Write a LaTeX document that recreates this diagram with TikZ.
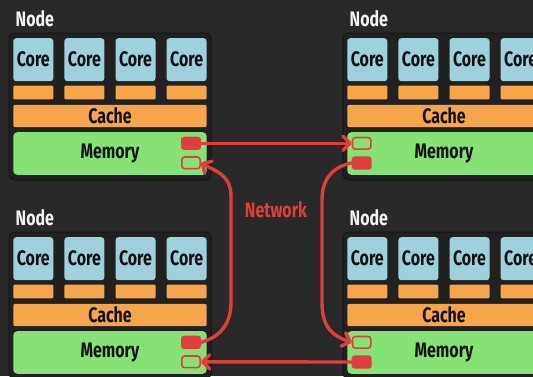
\documentclass[tikz,border=0pt]{standalone}
\usepackage{fontspec}
\setmainfont{Fira Sans}[FakeStretch=0.76]
\usetikzlibrary{arrows.meta}

\definecolor{bg}{HTML}{292929}
\definecolor{boxfill}{HTML}{212121}
\definecolor{boxline}{HTML}{151515}
\definecolor{corecol}{HTML}{9ED1DB}
\definecolor{cachecol}{HTML}{F6A54B}
\definecolor{memcol}{HTML}{86E274}
\definecolor{netred}{HTML}{E03E3E}
\definecolor{ink}{HTML}{111111}
\definecolor{titlecol}{HTML}{F2F2F2}

\tikzset{
  lbl/.style={font=\bfseries\fontsize{21}{21}\selectfont},
  machinebox/.style={fill=boxfill, draw=boxline, line width=1pt, rounded corners=6pt,
    minimum width=202pt, minimum height=147pt, inner sep=0pt},
  title/.style={lbl, text=titlecol, anchor=base west, inner sep=0pt},
  core/.style={lbl, text=ink, fill=corecol, rounded corners=3pt,
    minimum width=40pt, minimum height=43pt, inner sep=0pt},
  bar/.style={fill=cachecol, rounded corners=1pt,
    minimum width=40pt, minimum height=13.6pt, inner sep=0pt},
  cache/.style={lbl, text=ink, fill=cachecol, rounded corners=2pt,
    minimum width=193.4pt, minimum height=22.4pt, inner sep=0pt},
  mem/.style={lbl, text=ink, fill=memcol, rounded corners=4pt,
    minimum width=193.4pt, minimum height=42.6pt, inner sep=0pt},
  portfull/.style={fill=netred, rounded corners=3pt,
    minimum width=20pt, minimum height=13.3pt, inner sep=0pt},
  portopen/.style={fill=memcol, draw=netred, line width=1.6pt, rounded corners=3pt,
    minimum width=18.4pt, minimum height=11.7pt, inner sep=0pt},
  link/.style={draw=netred, line width=3.4pt, line cap=round,
    -{Straight Barb[length=7pt, width=14pt, round]}},
  nettext/.style={lbl, text=netred, inner sep=0pt},
}

% one compute node: cores, private caches, shared cache, memory
\newcommand\machine[3]{%
  \begin{scope}[shift={(#2,#3)}]
    \node[machinebox] (#1) at (110,106.5) {};
    \node[title] (#1-title) at (15.5,26.5) {Node};
    \foreach \i in {0,...,3} {
      \node[core] (#1-core\i) at (33.3+51.1*\i,59.7) {Core};
      \node[bar] (#1-bar\i) at (33.3+51.1*\i,92.5) {};
    }
    \node[cache] (#1-cache) at (110,116) {Cache};
    \node[mem] (#1-mem) at (110,153.5) {Memory};
  \end{scope}}

\begin{document}
\begin{tikzpicture}[x=1pt, y=-1pt]
  \clip (0,0) rectangle (533,376);
  \fill[bg] (0,0) rectangle (533,376);

  \machine{tl}{0}{0}
  \machine{tr}{334}{0}
  \machine{bl}{0}{199}
  \machine{br}{334}{199}

  % network ports
  \node[portfull] (tl-tx) at (191,143.3) {};
  \node[portopen] (tl-rx) at (191,162.8) {};
  \node[portopen] (tr-rx) at (361.7,143.3) {};
  \node[portfull] (tr-tx) at (361.7,163) {};
  \node[portfull] (bl-tx) at (191,342.3) {};
  \node[portopen] (bl-rx) at (191,361.8) {};
  \node[portopen] (br-rx) at (361.7,342.3) {};
  \node[portfull] (br-tx) at (361.7,362) {};

  \node[nettext] (net) at (276,210) {Network};

  % links
  \draw[link] (tl-tx.east) -- (tr-rx.west);
  \draw[link] (br-tx.west) -- (bl-rx.east);
  \coordinate (r1) at (322,200);
  \coordinate (r2) at (322,302);
  \draw[link] (tr-tx.west) .. controls (336,166) and (322,176) .. (r1)
    -- (r2) .. controls (322,328) and (333,336) .. (br-rx.west);
  \coordinate (l1) at (231,302);
  \coordinate (l2) at (231,196);
  \draw[link] (bl-tx.east) .. controls (216,338) and (231,328) .. (l1)
    -- (l2) .. controls (231,174) and (213,170) .. (tl-rx.east);
\end{tikzpicture}
\end{document}
